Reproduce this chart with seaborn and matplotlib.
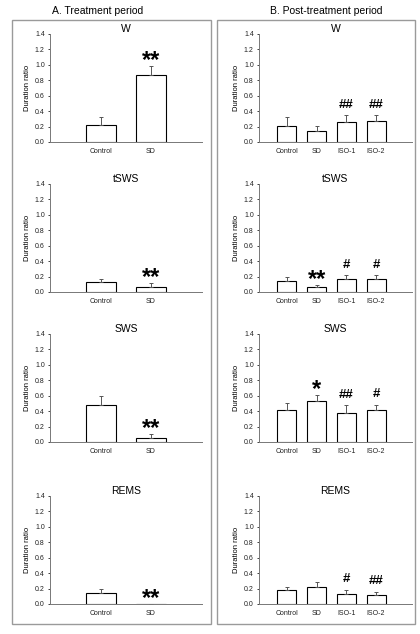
import numpy as np
import pandas as pd
import matplotlib
matplotlib.use("Agg")
import matplotlib.pyplot as plt
from matplotlib.patches import Rectangle
import seaborn as sns

sns.set_style("ticks")
plt.rcParams['font.family'] = ['Liberation Sans', 'DejaVu Sans']

# ---- data ----
stages = ['W', 'tSWS', 'SWS', 'REMS']
groups_a = ['Control', 'SD']
groups_b = ['Control', 'SD', 'ISO-1', 'ISO-2']

# Panel A: treatment period (mean, upper error)
a_mean = {'W': [0.215, 0.87], 'tSWS': [0.13, 0.07], 'SWS': [0.475, 0.048], 'REMS': [0.142, 0.0]}
a_err = {'W': [0.11, 0.115], 'tSWS': [0.04, 0.046], 'SWS': [0.115, 0.052], 'REMS': [0.048, 0.0]}
a_marks = {'W': ['', '**'], 'tSWS': ['', '**'], 'SWS': ['', '**'], 'REMS': ['', '**']}

# Panel B: post-treatment period
b_mean = {'W': [0.207, 0.143, 0.26, 0.272], 'tSWS': [0.142, 0.065, 0.168, 0.172],
          'SWS': [0.42, 0.53, 0.376, 0.41], 'REMS': [0.18, 0.215, 0.13, 0.116]}
b_err = {'W': [0.117, 0.06, 0.09, 0.078], 'tSWS': [0.052, 0.03, 0.052, 0.048],
         'SWS': [0.08, 0.075, 0.1, 0.074], 'REMS': [0.04, 0.07, 0.055, 0.044]}
b_marks = {'W': ['', '', '##', '##'], 'tSWS': ['', '**', '#', '#'],
           'SWS': ['', '*', '##', '#'], 'REMS': ['', '', '#', '##']}

yticks = [0.0, 0.2, 0.4, 0.6, 0.8, 1.0, 1.2, 1.4]

W, H = 420, 634
fig = plt.figure(figsize=(W / 100, H / 100), dpi=100)

# panel frames
for x0, x1 in [(12, 210.5), (217, 415)]:
    fig.patches.append(Rectangle((x0 / W, 1 - 624 / H), (x1 - x0) / W, (624 - 20) / H,
                                 transform=fig.transFigure, fill=False,
                                 edgecolor='#9a9a9a', linewidth=1.0))
fig.text(98 / W, 1 - 11 / H, 'A. Treatment period', ha='center', va='center', fontsize=7.5, color='black')
fig.text(326 / W, 1 - 11 / H, 'B. Post-treatment period', ha='center', va='center', fontsize=7.5, color='black')

row_px = [(34, 142), (184, 292), (334, 442), (496, 604)]


def draw(ax, groups, means, errs, marks, title, xlim, width):
    df = pd.DataFrame({'group': groups, 'value': means})
    sns.barplot(data=df, x='group', y='value', ax=ax, color='white', edgecolor='black',
                linewidth=0.8, width=width, errorbar=None, saturation=1)
    x = np.arange(len(groups))
    ax.errorbar(x, means, yerr=[np.zeros(len(errs)), errs], fmt='none', ecolor='#555555',
                elinewidth=0.7, capsize=1.6, capthick=0.7)
    for xi, m, e, t in zip(x, means, errs, marks):
        if not t:
            continue
        star = '*' in t
        ax.annotate(t, (xi, m + e), xytext=(0, 4 if star else 7.5), textcoords='offset points',
                    ha='center', va='center', fontsize=17 if star else 9.5,
                    fontweight='bold', color='black')
    ax.set_xlim(*xlim)
    ax.set_ylim(0, 1.4)
    ax.set_yticks(yticks)
    ax.set_yticklabels([f'{v:.1f}' for v in yticks])
    ax.set_title(title, fontsize=7.5, pad=1.5, color='black')
    ax.set_xlabel('')
    ax.set_ylabel('Duration ratio', fontsize=5.5, labelpad=3, color='black')
    ax.tick_params(axis='both', labelsize=5, length=1.8, width=0.6, pad=2, colors='#222222')
    ax.tick_params(axis='x', length=0, pad=4)
    for s in ['top', 'right']:
        ax.spines[s].set_visible(False)
    for s in ['left', 'bottom']:
        ax.spines[s].set_linewidth(0.7)
        ax.spines[s].set_color('#777777')


for i, st in enumerate(stages):
    top, bot = row_px[i]
    axa = fig.add_axes([50 / W, 1 - bot / H, 152 / W, (bot - top) / H])
    draw(axa, groups_a, a_mean[st], a_err[st], a_marks[st], st, (-1.02, 2.02), 0.6)
    axb = fig.add_axes([259 / W, 1 - bot / H, 153 / W, (bot - top) / H])
    draw(axb, groups_b, b_mean[st], b_err[st], b_marks[st], st, (-0.94, 4.21), 0.64)

fig.savefig('out.png', dpi=100)
